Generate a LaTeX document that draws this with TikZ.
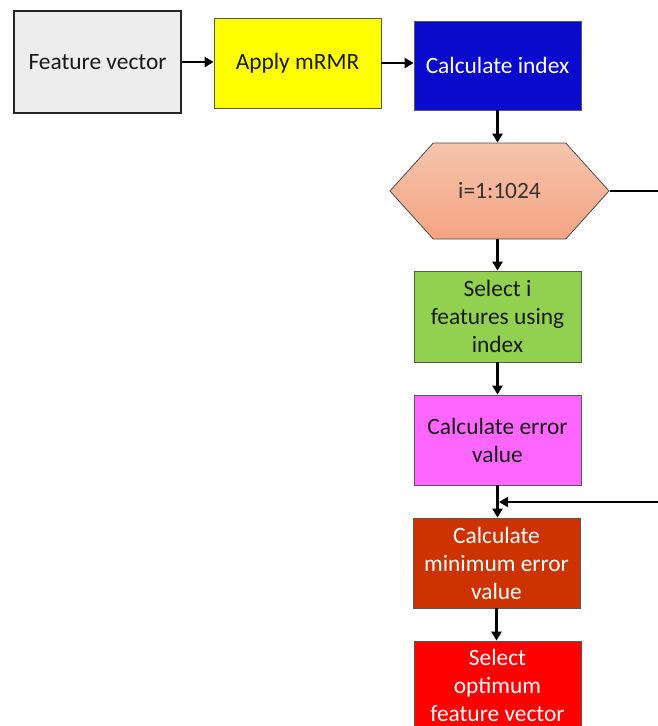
\documentclass[tikz,border=0pt]{standalone}
\usepackage{fontspec}
\setmainfont{Carlito}
\usetikzlibrary{arrows.meta,shapes.symbols}

\definecolor{fvgray}{HTML}{EDEDED}
\definecolor{mrmryellow}{HTML}{FFFF00}
\definecolor{idxblue}{HTML}{0A0ACC}
\definecolor{hextop}{HTML}{F6C4AE}
\definecolor{hexbot}{HTML}{F4A482}
\definecolor{selgreen}{HTML}{92D050}
\definecolor{errpink}{HTML}{FF66FF}
\definecolor{minbrown}{HTML}{CC3300}
\definecolor{optred}{HTML}{FF0000}

\tikzset{
  box/.style={draw=black!65, line width=0.8pt, minimum width=167pt, minimum height=90pt,
    align=center, inner sep=2pt, font=\fontsize{23.4}{28}\selectfont, text=black!90},
  flow/.style={line width=2.4pt, -{Triangle[length=9pt,width=10pt]}},
  plain/.style={line width=2.4pt}
}

\begin{document}
\begin{tikzpicture}[x=1pt, y=-1pt]
  \useasboundingbox (0,0) rectangle (658,726);

  % top row
  \node[box, fill=fvgray, draw=black!85, line width=1.6pt, minimum height=102pt] (fv) at (97.5,62) {Feature vector};
  \node[box, fill=mrmryellow] (mrmr) at (297.5,63) {Apply mRMR};
  \node[box, fill=idxblue, text=white, minimum height=89pt] (idx) at (497.5,65.5) {Calculate index};

  % loop
  \node[box, shape=signal, signal to=west and east, signal pointer angle=96,
    minimum width=219pt, minimum height=96pt, top color=hextop, bottom color=hexbot,
    draw=black!70, text=black!80] (hex) at (499.5,191) {i=1:1024};
  \node[box, fill=selgreen, minimum height=91pt] (sel) at (497.5,316.5) {Select i\\features using\\index};
  \node[box, fill=errpink] (err) at (497.5,440) {Calculate error\\value};
  \node[box, fill=minbrown, text=white] (minerr) at (496.5,563) {Calculate\\minimum error\\value};
  \node[box, fill=optred, text=white, minimum height=88pt] (opt) at (497.5,685) {Select\\optimum\\feature vector};

  \coordinate (loopout) at (658,191);
  \coordinate (loopin) at (658,502);

  % connectors
  \draw[flow] (fv.east) -- (fv.east -| mrmr.west);
  \draw[flow] (mrmr.east) -- (mrmr.east -| idx.west);
  \draw[flow] (idx.south) -- (idx.south |- hex.north);
  \draw[flow] (hex.south -| sel.north) -- (sel.north);
  \draw[flow] (sel.south) -- (err.north);
  \draw[flow] (err.south) -- (err.south |- minerr.north);
  \draw[flow] (minerr.south) -- (minerr.south |- opt.north);
  \draw[plain] (hex.east) -- (loopout);
  \draw[flow] (loopin) -- ([xshift=1.5pt]err.south |- loopin);
\end{tikzpicture}
\end{document}
